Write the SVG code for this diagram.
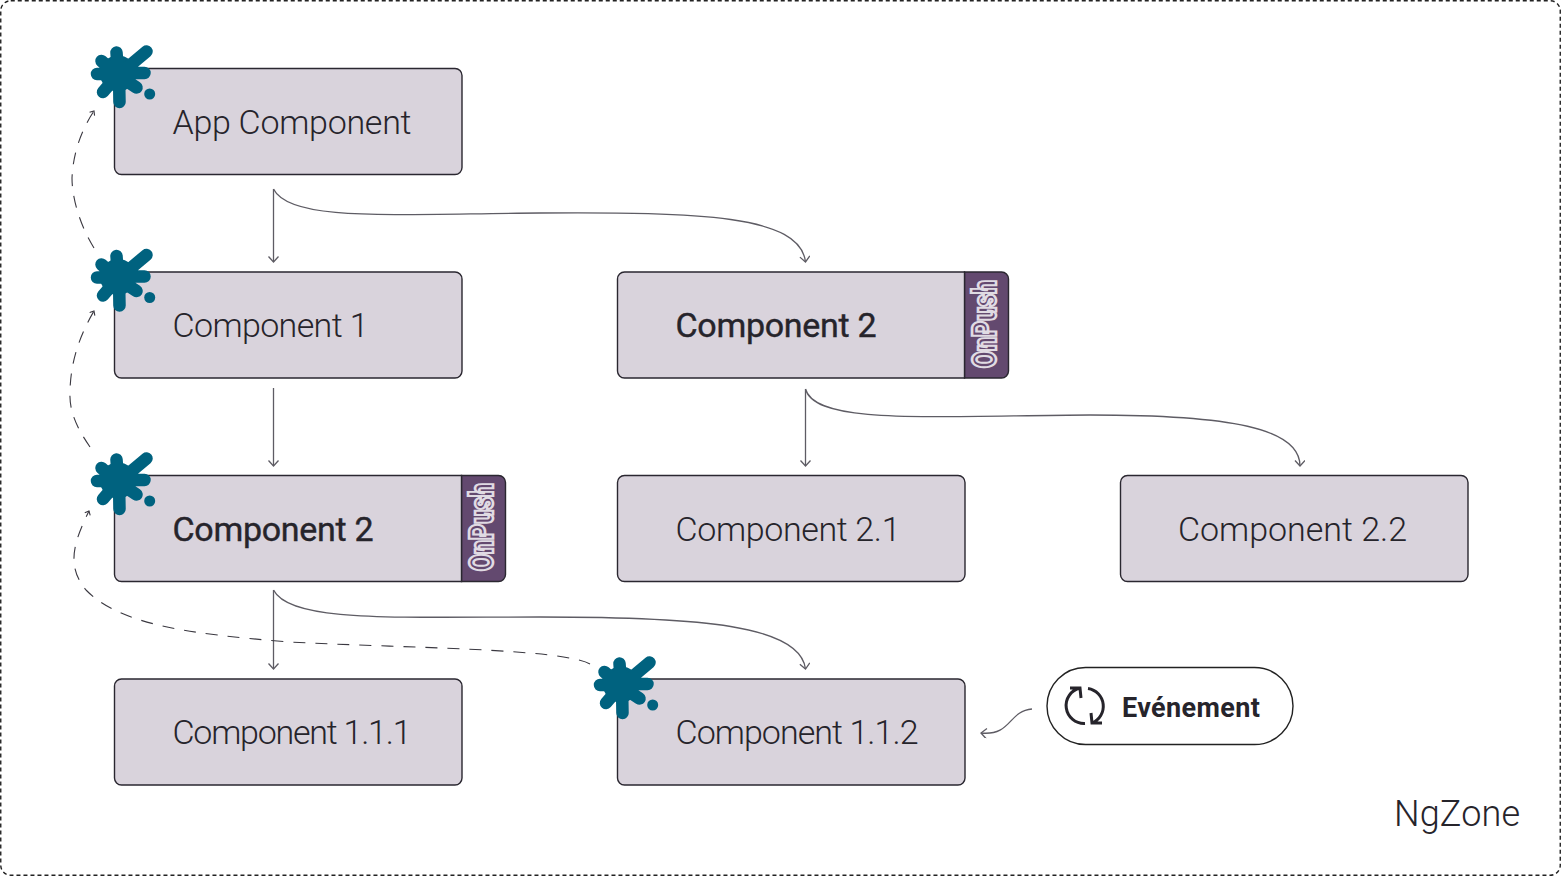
<svg xmlns="http://www.w3.org/2000/svg" width="1561" height="876" viewBox="0 0 1561 876">
<style>
.box{fill:#d9d3dc;stroke:#2a2730;stroke-width:1.4}
.tab{fill:#63496f;stroke:#2a2730;stroke-width:1.4}
.lbl{font-family:Roboto,"Liberation Sans",sans-serif;font-size:34px;font-weight:300;fill:#26242b}
.b{font-weight:400;stroke:#26242b;stroke-width:0.4}
.op{font-family:Roboto,"Liberation Sans",sans-serif;font-size:33px;font-weight:900;fill:#63496f;stroke:#e0dbe3;stroke-width:2.6}
.c{fill:none;stroke:#5e5c64;stroke-width:1.3}
.d{fill:none;stroke:#3a3840;stroke-width:1.1;stroke-dasharray:12 10}
.s{fill:#00627f}
.f{fill:none;stroke:#00627f;stroke-width:12.500;stroke-linecap:round}
</style>
<defs>
<marker id="a" markerWidth="12" markerHeight="12" refX="9" refY="5" orient="auto" markerUnits="userSpaceOnUse"><path d="M3.500 0L9 5L3.500 10" fill="none" stroke="#5e5c64" stroke-width="1.3"/></marker>
<marker id="m" markerWidth="8" markerHeight="8" refX="5" refY="3.500" orient="auto" markerUnits="userSpaceOnUse"><path d="M1.500 0.500L5 3.500L1.500 6.500" fill="none" stroke="#3a3840" stroke-width="1.100"/></marker>
<g id="splat"><circle class="s" cx="58" cy="43.500" r="18"/><path class="f" d="M58 43L56.500 22.500M62 42L86.500 21.500M60 43H84.500M62 48L76.500 57.500M59 45L59.500 72M55 48L43 62M55 44H37M55 43L41.500 31"/><circle class="s" cx="89.700" cy="64" r="5.500"/></g>
</defs>
<rect x="0.750" y="0.750" width="1559.500" height="874.500" rx="10" fill="#fff" stroke="#222" stroke-width="1.400" stroke-dasharray="4 3"/>
<g id="connectors">
<path class="c" d="M273.500 189V262" marker-end="url(#a)"/>
<path class="c" d="M273.500 189C290 222 390 214 540 213C700 212 800 215 805.500 262" marker-end="url(#a)"/>
<path class="c" d="M273.500 388V466" marker-end="url(#a)"/>
<path class="c" d="M805.500 389V466" marker-end="url(#a)"/>
<path class="c" d="M805.500 389C815 425 930 416 1090 415C1230 415 1300 428 1300 466" marker-end="url(#a)"/>
<path class="c" d="M273.500 590V669" marker-end="url(#a)"/>
<path class="c" d="M273.500 590C290 622 390 617 540 617C700 617 800 625 805.500 669" marker-end="url(#a)"/>
<path class="c" d="M1032 709C1008 711 1012 736 981 733" marker-end="url(#a)"/>
<path class="d" d="M94 248C78 222 72 195 72 178C73 155 80 132 94 111" marker-end="url(#m)"/>
<path class="d" d="M90 447C75 425 69 410 70 390C71 360 80 335 94 311" marker-end="url(#m)"/>
<path class="d" d="M590 664C560 648 400 648 290 642C190 634 120 625 86 590C65 565 75 540 89 511" marker-end="url(#m)"/>
</g>
<g id="app-component"><rect class="box" x="114.500" y="68.500" width="347.500" height="106" rx="7"/><text class="lbl" x="172.500" y="133.500" textLength="239">App Component</text><use href="#splat" x="60" y="30"/></g>
<g id="component-1"><rect class="box" x="114.500" y="272" width="347.500" height="106" rx="7"/><text class="lbl" x="172.500" y="337" textLength="196">Component 1</text><use href="#splat" x="60" y="233.500"/></g>
<g id="component-2-right"><path class="tab" d="M964.500 272H1001.500A7 7 0 0 1 1008.500 279V371A7 7 0 0 1 1001.500 378H964.500Z"/><path class="box" d="M624.500 272H964.500V378H624.500A7 7 0 0 1 617.500 371V279A7 7 0 0 1 624.500 272Z"/><text class="lbl b" x="675.500" y="337" textLength="201">Component 2</text><text class="op" transform="translate(995.500 368) rotate(-90)" textLength="88" lengthAdjust="spacingAndGlyphs">OnPush</text></g>
<g id="component-2-left"><path class="tab" d="M461.500 475.500H498.500A7 7 0 0 1 505.500 482.500V574.500A7 7 0 0 1 498.500 581.500H461.500Z"/><path class="box" d="M121.500 475.500H461.500V581.500H121.500A7 7 0 0 1 114.500 574.500V482.500A7 7 0 0 1 121.500 475.500Z"/><text class="lbl b" x="172.500" y="540.500" textLength="201">Component 2</text><text class="op" transform="translate(492.500 571) rotate(-90)" textLength="88" lengthAdjust="spacingAndGlyphs">OnPush</text><use href="#splat" x="60" y="437"/></g>
<g id="component-2-1"><rect class="box" x="617.500" y="475.500" width="347.500" height="106" rx="7"/><text class="lbl" x="675.500" y="540.500" textLength="225">Component 2.1</text></g>
<g id="component-2-2"><rect class="box" x="1120.500" y="475.500" width="347.500" height="106" rx="7"/><text class="lbl" x="1178" y="540.500" textLength="229">Component 2.2</text></g>
<g id="component-1-1-1"><rect class="box" x="114.500" y="679" width="347.500" height="106" rx="7"/><text class="lbl" x="172.500" y="744" textLength="239">Component 1.1.1</text></g>
<g id="component-1-1-2"><rect class="box" x="617.500" y="679" width="347.500" height="106" rx="7"/><text class="lbl" x="675.500" y="744" textLength="243">Component 1.1.2</text><use href="#splat" x="563" y="641"/></g>
<g id="evenement"><rect x="1047" y="667.500" width="246" height="77" rx="38.500" fill="#fff" stroke="#222" stroke-width="1.400"/>
<path d="M1070 688H1080L1081 698M1080 688A18 18 0 0 0 1085 723.500M1088 688.500A18 18 0 0 1 1092 723M1091 713L1092 723H1102" fill="none" stroke="#26242b" stroke-width="3"/>
<text x="1122" y="717" font-family="Roboto,Liberation Sans,sans-serif" font-size="27" font-weight="700" fill="#26242b" textLength="138">Evénement</text></g>
<g id="ngzone"><text x="1394" y="825.500" font-family="Roboto,Liberation Sans,sans-serif" font-size="36" font-weight="300" fill="#26242b" textLength="126">NgZone</text></g>
</svg>
